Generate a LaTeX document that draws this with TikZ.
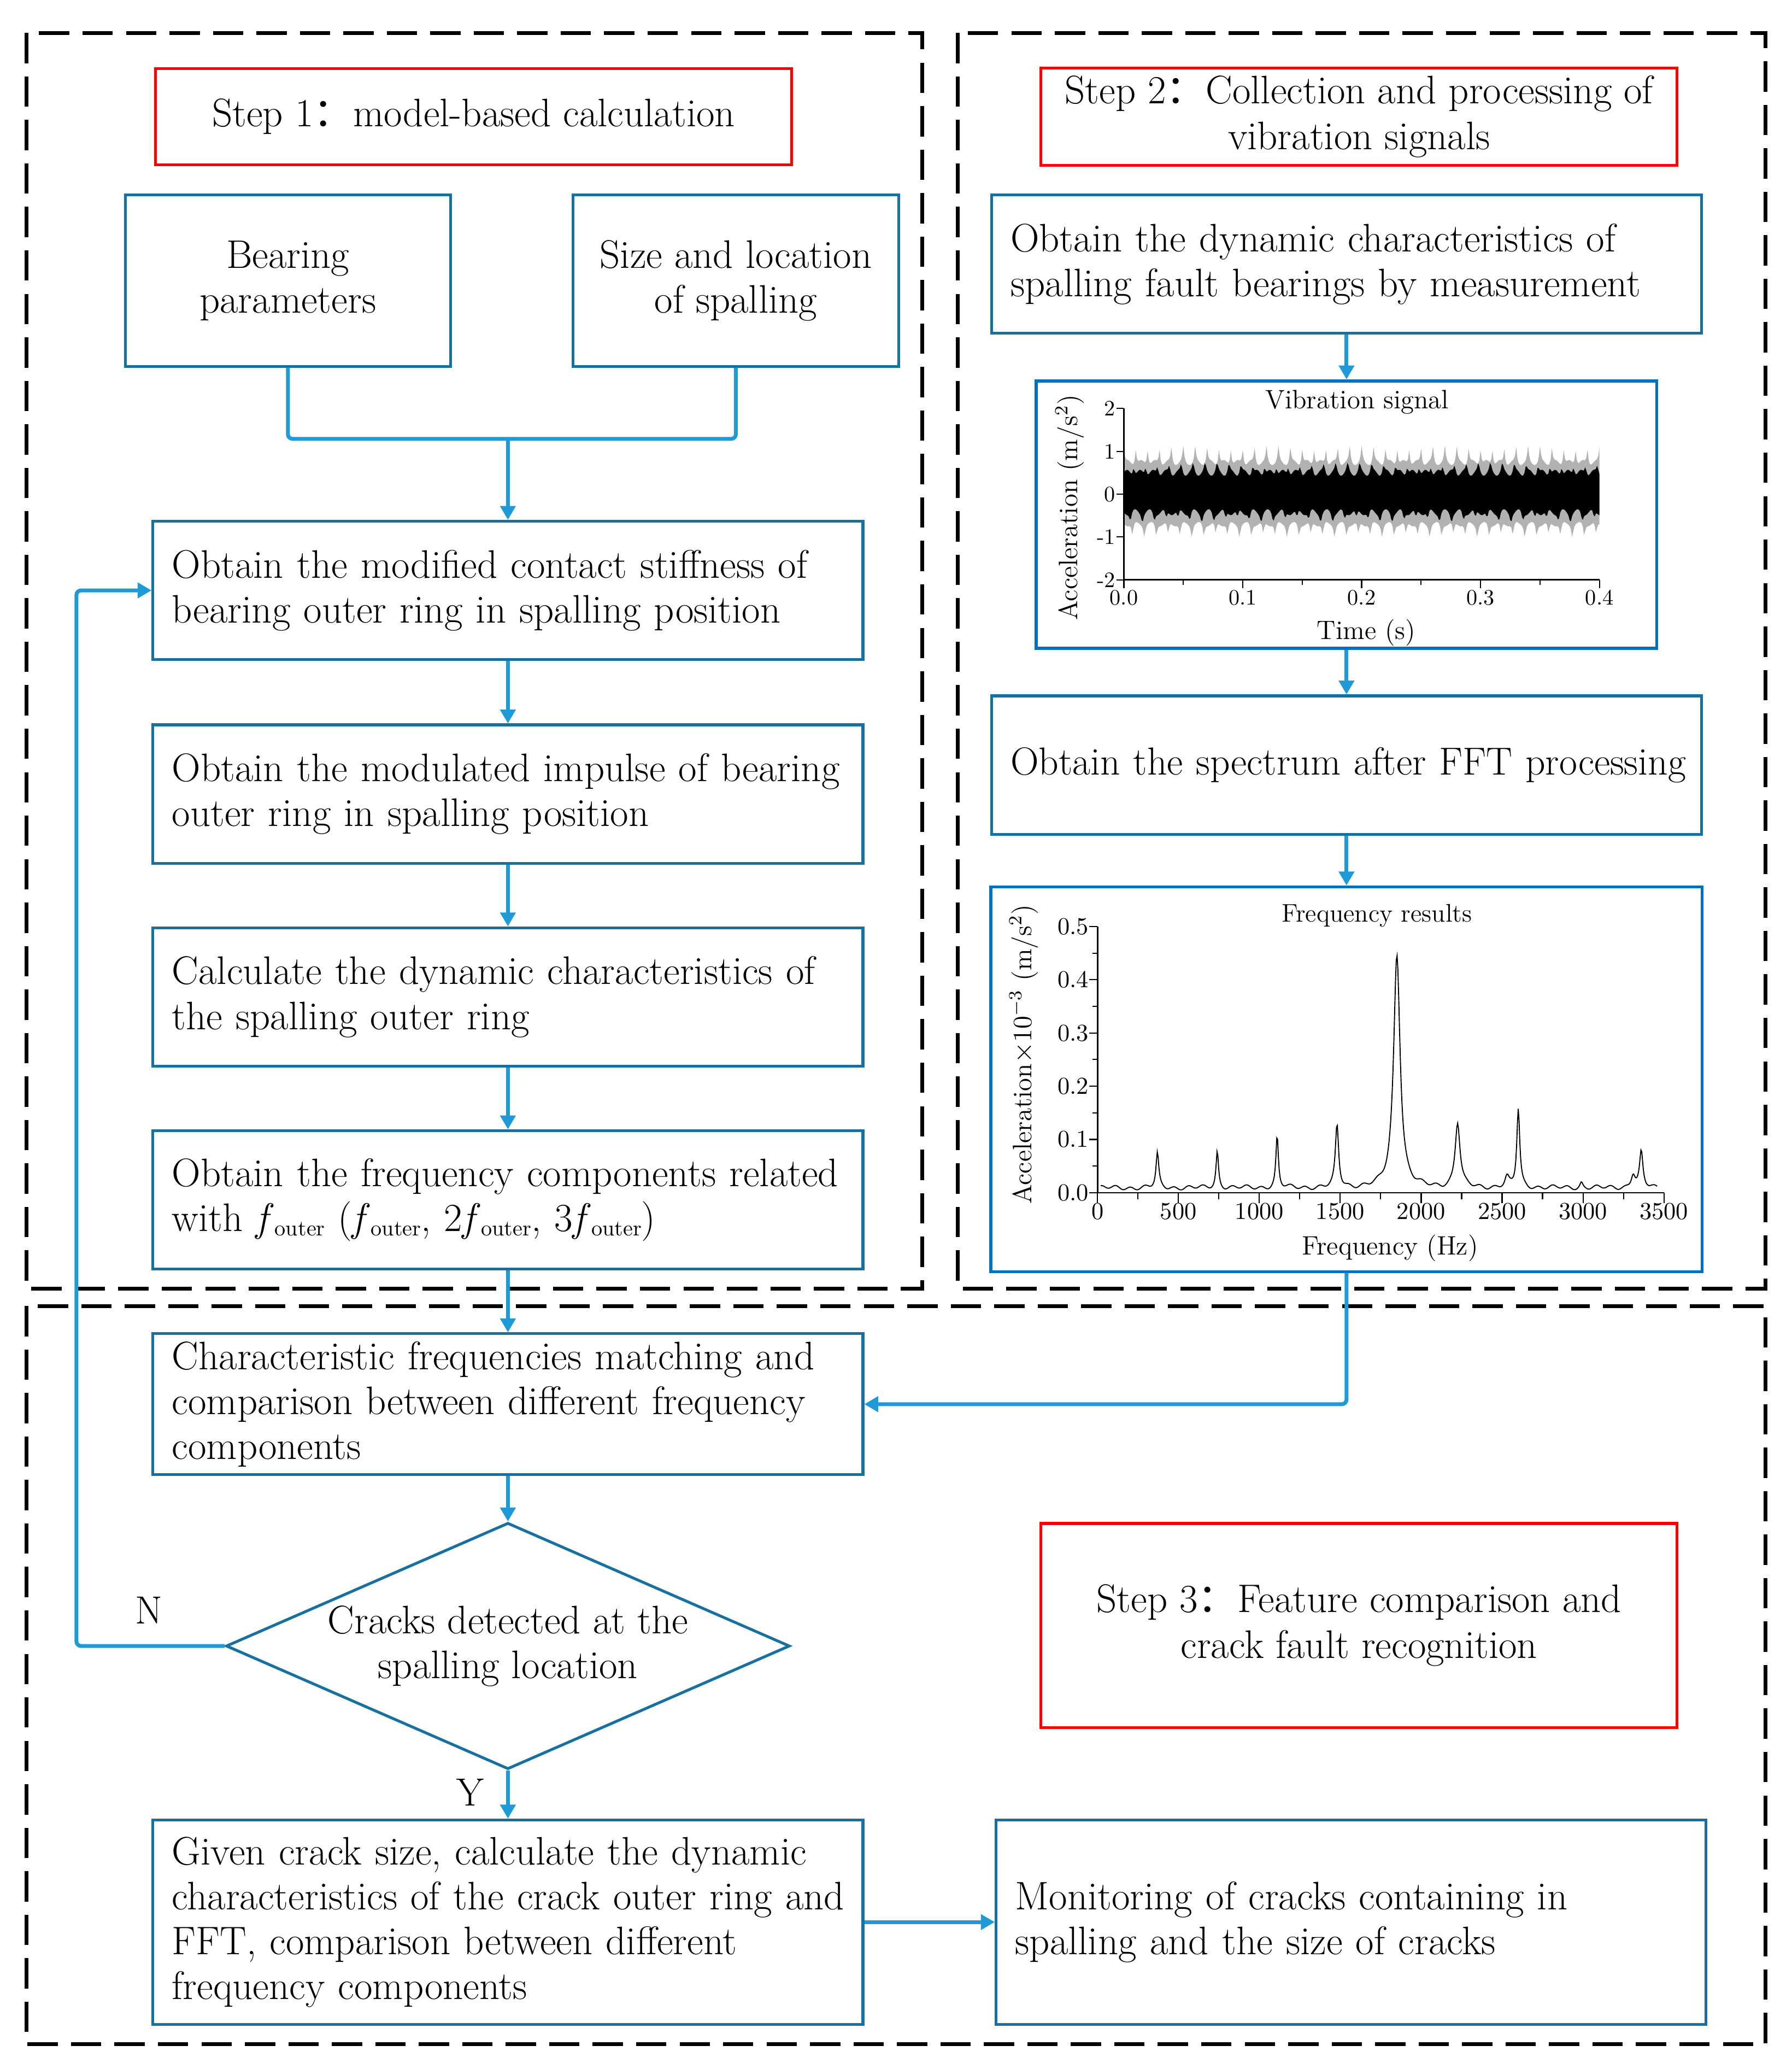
\documentclass[tikz,border=0pt]{standalone}
\usepackage{fontspec}
\newfontfamily\cjk{Noto Sans CJK SC}
\usetikzlibrary{positioning,arrows.meta,calc,shapes.geometric}

\definecolor{boxblue}{RGB}{22,112,160}
\definecolor{linkblue}{RGB}{30,155,215}
\definecolor{chartblue}{RGB}{0,112,192}

\newcommand{\fout}{\textit{f}\kern0.02em\raisebox{-0.25ex}{\fontsize{9.5}{10}\selectfont outer}}

\tikzset{
  frame/.style={draw=black, line width=1.6pt, dash pattern=on 0.46cm off 0.2cm},
  stepbox/.style={draw=red, line width=1.2pt, minimum width=9.66cm, align=center,
    font=\fontsize{17.2}{19.8}\selectfont},
  flowbox/.style={draw=boxblue, line width=1.2pt, minimum height=2.1cm, text width=10.2cm,
    inner xsep=0.29cm, align=left, font=\fontsize{17.2}{19.4}\selectfont},
  smallbox/.style={draw=boxblue, line width=1.2pt, minimum width=4.94cm, minimum height=2.6cm,
    align=center, font=\fontsize{17.2}{19.4}\selectfont},
  decision/.style={diamond, aspect=2.29, draw=boxblue, line width=1.2pt, minimum width=8.56cm,
    minimum height=3.74cm, inner sep=0pt, align=center, font=\fontsize{17.2}{19.4}\selectfont},
  chartbox/.style={draw=chartblue, line width=1.3pt},
  link/.style={draw=linkblue, line width=1.65pt, rounded corners=2pt},
  arrow/.style={link, -{Triangle[length=6pt,width=6.5pt]}},
  ticklabel/.style={font=\fontsize{9.5}{11}\selectfont, inner sep=1.5pt},
  axislabel/.style={font=\fontsize{11.5}{13}\selectfont}
}

\begin{document}
\begin{tikzpicture}[x=0.02cm, y=-0.02cm]
    \useasboundingbox (0,0) rectangle (1360,1570);

    % Dashed frames of the three steps
    \draw[frame] (20,25) rectangle (700,978);
    \draw[frame] (727,25) rectangle (1340,978);
    \draw[frame] (20,991) rectangle (1340,1551);

    % Step titles
    \node[stepbox, minimum height=1.46cm] (step1) at (359.5,88.5) {Step 1{\cjk ：}model-based calculation};
    \node[stepbox, minimum height=1.46cm] (step2) at (1031.5,88.5) {Step 2{\cjk ：}Collection and processing of\\vibration signals};
    \node[stepbox, minimum height=3.1cm] (step3) at (1031.5,1233.5) {Step 3{\cjk ：}Feature comparison and\\crack fault recognition};

    % Step 1: model
    \node[smallbox] (bearing) at (218.5,213) {Bearing\\parameters};
    \node[smallbox] (spall) at (558.5,213) {Size and location\\of spalling};
    \node[flowbox] (stiff) at (385.5,448) {Obtain the modified contact stiffness of\\bearing outer ring in spalling position};
    \node[flowbox] (impulse) at (385.5,602.5) {Obtain the modulated impulse of bearing\\outer ring in spalling position};
    \node[flowbox] (calc) at (385.5,756.5) {Calculate the dynamic characteristics of\\the spalling outer ring};
    \node[flowbox] (freqcomp) at (385.5,910.5) {Obtain the frequency components related\\with \fout{} (\fout, 2\fout, 3\fout)};

    % Step 2: measurement
    \node[flowbox] (measure) at (1022,200.5) {Obtain the dynamic characteristics of\\spalling fault bearings by measurement};
    \node[chartbox, minimum width=9.42cm, minimum height=4.06cm] (signal) at (1022,390.5) {};
    \node[flowbox, font=\fontsize{16.9}{19.4}\selectfont] (fft) at (1022,580.5) {\mbox{Obtain the spectrum after FFT processing}};
    \node[chartbox, minimum width=10.8cm, minimum height=5.84cm] (spectrum) at (1022,819) {};

    % Step 3: comparison
    \node[flowbox] (match) at (385.5,1065.5) {Characteristic frequencies matching and\\comparison between different frequency\\components};
    \node[decision] (crack) at (385.5,1249) {Cracks detected at the\\spalling location};
    \node[flowbox, minimum height=3.1cm] (given) at (385.5,1458.5) {Given crack size, calculate the dynamic\\\mbox{characteristics of the crack outer ring and}\\FFT, comparison between different\\frequency components};
    \node[flowbox, minimum height=3.1cm] (monitor) at (1025.5,1458.5) {Monitoring of cracks containing in\\spalling and the size of cracks};
    \node[font=\fontsize{17}{19}\selectfont] (no) at (113,1222) {N};
    \node[font=\fontsize{17}{19}\selectfont] (yes) at (357,1360) {Y};

    % Vibration signal (time in ms)
    \begin{scope}[shift={(853,375)}, x=0.01805cm, y=0.65cm,
        declare function={spike(\a)=(1-abs(sin(\a)))*(1-abs(sin(\a)))*(1-abs(sin(\a)));}]
        \fill[gray!60] plot[domain=0:400, samples=401] (\x,{0.74+0.33*spike(\x*18)+0.06*sin(\x*31)})
            -- plot[domain=400:0, samples=401] (\x,{-0.7-0.3*spike(\x*18+50)-0.05*sin(\x*27)}) -- cycle;
        \fill[black] plot[domain=0:400, samples=401] (\x,{0.5+0.22*spike(\x*18+30)+0.07*sin(\x*33)})
            -- plot[domain=400:0, samples=401] (\x,{-0.42-0.22*spike(\x*18+80)-0.07*sin(\x*29)}) -- cycle;
        \draw[line width=0.6pt] (0,2) -- (0,-2) -- (400,-2);
        \foreach \t in {50,150,250,350} \draw[line width=0.5pt] (\t,-2) -- (\t,-2.12);
        \foreach \t/\l [count=\i] in {0/0.0,100/0.1,200/0.2,300/0.3,400/0.4} {
            \draw[line width=0.5pt] (\t,-2) -- (\t,-2.2);
            \node[ticklabel, below] (sigx\i) at (\t,-2.15) {\l};
        }
        \foreach \v [count=\i] in {-2,...,2} {
            \draw[line width=0.5pt] (0,\v) -- (-6,\v);
            \node[ticklabel, left] (sigy\i) at (-4,\v) {\v};
        }
    \end{scope}
    \node[axislabel] (sigtitle) at (1030,305) {Vibration signal};
    \node[axislabel] (sigxlab) at (1037,480) {Time (s)};
    \node[axislabel, rotate=90] (sigylab) at (812,385) {Acceleration (m/s$^2$)};

    % Spectrum (frequency in kHz)
    \begin{scope}[shift={(833,905)}, x=2.457cm, y=8.08cm,
        declare function={pk(\q,\f,\a,\w)=\a/(1+min(abs(\q-\f)/\w,60)*min(abs(\q-\f)/\w,60));}]
        \draw[line width=0.45pt] plot[domain=0.02:3.46, samples=689] (\x,{0.009+0.003*sin(\x*4000)+0.002*sin(\x*1300)
            +pk(\x,0.37,0.064,0.01)+pk(\x,0.74,0.068,0.009)+pk(\x,1.11,0.096,0.009)+pk(\x,1.48,0.116,0.012)
            +pk(\x,1.85,0.44,0.024)+pk(\x,2.225,0.122,0.018)+pk(\x,2.6,0.148,0.011)+pk(\x,2.53,0.018,0.015)
            +pk(\x,2.99,0.01,0.01)+pk(\x,3.31,0.026,0.015)+pk(\x,3.36,0.066,0.012)});
        \draw[line width=0.6pt] (0,0.5) -- (0,0) -- (3.5,0);
        \foreach \t in {0.25,0.75,...,3.25} \draw[line width=0.5pt] (\t,0) -- (\t,-0.012);
        \foreach \t/\l [count=\i] in {0/0,0.5/500,1/1000,1.5/1500,2/2000,2.5/2500,3/3000,3.5/3500} {
            \draw[line width=0.5pt] (\t,0) -- (\t,-0.02);
            \node[ticklabel, below, font=\fontsize{10.5}{12}\selectfont] (spx\i) at (\t,-0.012) {\l};
        }
        \foreach \v in {0.05,0.15,...,0.45} \draw[line width=0.5pt] (0,\v) -- (-0.03,\v);
        \foreach \v [count=\i] in {0.0,0.1,0.2,0.3,0.4,0.5} {
            \draw[line width=0.5pt] (0,\v) -- (-0.05,\v);
            \node[ticklabel, left, font=\fontsize{10.5}{12}\selectfont] (spy\i) at (-0.03,\v) {\v};
        }
    \end{scope}
    \node[axislabel, font=\fontsize{11}{13}\selectfont] (sptitle) at (1045,695) {Frequency results};
    \node[axislabel] (spxlab) at (1055,947) {Frequency (Hz)};
    \node[axislabel, rotate=90] (spylab) at (777,800) {Acceleration$\times$10$^{-3}$ (m/s$^2$)};

    % Connectors
    \coordinate (join) at (385.5,333);
    \coordinate (back) at (58,1249);
    \draw[link] (bearing.south) |- (join) -| (spall.south);
    \draw[arrow] (join) -- (stiff.north);
    \draw[arrow] (stiff) -- (impulse);
    \draw[arrow] (impulse) -- (calc);
    \draw[arrow] (calc) -- (freqcomp);
    \draw[arrow] (freqcomp) -- (match);
    \draw[arrow] (match) -- (crack);
    \draw[arrow] (crack.south) -- (given.north);
    \draw[arrow] (crack.west) -- (back) |- (stiff.west);
    \draw[arrow] (given) -- (monitor);
    \draw[arrow] (measure) -- (signal);
    \draw[arrow] (signal) -- (fft);
    \draw[arrow] (fft) -- (spectrum);
    \draw[arrow] (spectrum.south) |- (match.east);
\end{tikzpicture}
\end{document}
